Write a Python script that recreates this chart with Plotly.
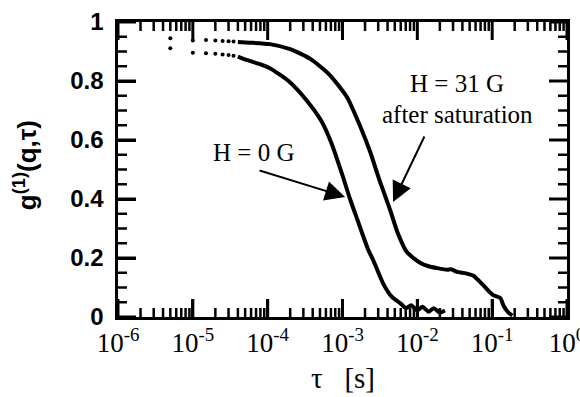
import plotly.graph_objects as go

# early, sparse correlator points (dots)
tau_dots = [5e-6, 1e-5, 1.5e-5, 2e-5, 2.5e-5, 3e-5, 3.5e-5]
g_h0_dots = [0.911, 0.896, 0.894, 0.892, 0.890, 0.888, 0.886]
g_h31_dots = [0.945, 0.937, 0.939, 0.937, 0.936, 0.935, 0.934]

# H = 0 G, dense part
tau_h0 = [4.0e-5, 5.75e-5, 7.9e-5, 1.07e-4, 1.9e-4, 3.3e-4, 5.2e-4, 7.1e-4, 1.0e-3,
          1.26e-3, 1.58e-3, 2.19e-3, 2.57e-3, 3.47e-3, 4.57e-3, 5.89e-3,
          7.1e-3, 8.3e-3, 1.0e-2, 1.17e-2, 1.41e-2, 1.66e-2, 2.0e-2, 2.34e-2]
g_h0 = [0.883, 0.868, 0.857, 0.843, 0.80, 0.735, 0.665, 0.59, 0.48,
        0.40, 0.33, 0.23, 0.193, 0.115, 0.068, 0.047,
        0.03, 0.04, 0.022, 0.035, 0.018, 0.03, 0.015, 0.022]

# H = 31 G after saturation, dense part
tau_h31 = [4.0e-5, 5.75e-5, 1.07e-4, 2.0e-4, 3.72e-4, 6.76e-4, 1.15e-3, 1.74e-3,
           2.34e-3, 3.16e-3, 4.37e-3, 5.37e-3, 7.24e-3, 1.1e-2, 1.41e-2, 1.82e-2,
           2.51e-2, 2.82e-2, 3.39e-2, 4.47e-2, 5.62e-2, 7.59e-2, 0.102, 0.129,
           0.141, 0.162, 0.186]
g_h31 = [0.932, 0.930, 0.925, 0.908, 0.875, 0.82, 0.745, 0.644,
         0.56, 0.46, 0.36, 0.29, 0.22, 0.183, 0.172, 0.166,
         0.16, 0.162, 0.153, 0.148, 0.14, 0.108, 0.075, 0.064,
         0.04, 0.017, 0.005]

x_tickvals = [1e-6, 1e-5, 1e-4, 1e-3, 1e-2, 1e-1, 1e0]
x_ticktext = ["10<sup>-6</sup>", "10<sup>-5</sup>", "10<sup>-4</sup>", "10<sup>-3</sup>",
              "10<sup>-2</sup>", "10<sup>-1</sup>", "10<sup>0</sup>"]
y_tickvals = [0, 0.2, 0.4, 0.6, 0.8, 1]
y_ticktext = ["0", "0.2", "0.4", "0.6", "0.8", "1"]
x_minor_digits = [2, 3, 4, 5, 6, 7, 8, 9]
y_minor_step = 0.05

x_minor = [d * dec for dec in x_tickvals[:-1] for d in x_minor_digits]
y_minor = [round(i * y_minor_step, 2) for i in range(1, 20)
           if round(i * y_minor_step, 2) not in y_tickvals]

W, H = 580, 397
ML, MR, MT, MB = 118, 13, 22, 80
XMIN, XMAX, YMIN, YMAX = 1e-6, 1.0, 0.0, 1.0
px_per_dec = (W - ML - MR) / 6.0
px_per_y = (H - MT - MB) / (YMAX - YMIN)

fig = go.Figure()

# tick marks on all four sides, pointing inward (one small line trace per tick)
tick_segments = []
for vals, Lpx, w in [(x_tickvals, 18, 3), (x_minor, 9, 2.5)]:
    dy = Lpx / px_per_y
    for v in vals:
        tick_segments.append(([v, v], [YMIN, YMIN + dy], w))
        tick_segments.append(([v, v], [YMAX, YMAX - dy], w))
for vals, Lpx, w in [(y_tickvals, 18, 3), (y_minor, 9, 2.5)]:
    f = 10 ** (Lpx / px_per_dec)
    for v in vals:
        tick_segments.append(([XMIN, XMIN * f], [v, v], w))
        tick_segments.append(([XMAX, XMAX / f], [v, v], w))
for xs, ys, w in tick_segments:
    fig.add_trace(go.Scatter(x=xs, y=ys, mode="lines",
                             line=dict(color="#000000", width=w),
                             hoverinfo="skip", showlegend=False))

for td, gd in [(tau_dots, g_h0_dots), (tau_dots, g_h31_dots)]:
    fig.add_trace(go.Scatter(x=td, y=gd, mode="markers",
                             marker=dict(color="black", size=4), showlegend=False))
for t, g in [(tau_h0, g_h0), (tau_h31, g_h31)]:
    fig.add_trace(go.Scatter(x=t, y=g, mode="lines",
                             line=dict(color="black", width=4, shape="spline", smoothing=0.6),
                             showlegend=False))

serif = "Liberation Serif, Times New Roman, serif"
sans = "Liberation Sans, Arial, sans-serif"

fig.update_layout(
    width=W, height=H,
    margin=dict(l=ML, r=MR, t=MT, b=MB),
    paper_bgcolor="white", plot_bgcolor="white",
    xaxis=dict(type="log", range=[-6, 0], showgrid=False, zeroline=False,
               showline=True, linecolor="black", linewidth=3, mirror=True,
               ticks="inside", ticklen=18, tickwidth=3, tickcolor="black",
               tickvals=x_tickvals, ticktext=x_ticktext,
               ticklabeloverflow="allow",
               tickfont=dict(family=serif, size=27, color="black"),
               automargin=False),
    yaxis=dict(range=[YMIN, YMAX], showgrid=False, zeroline=False,
               showline=True, linecolor="black", linewidth=3, mirror=True,
               ticks="inside", ticklen=18, tickwidth=3, tickcolor="black",
               tickvals=y_tickvals,
               ticktext=["<b>" + t + "</b>\u00a0" for t in y_ticktext],
               tickfont=dict(family=sans, size=24, color="black"),
               automargin=False),
    annotations=[
        dict(text="<b>g<sup>(1)</sup>(q,τ)</b>", xref="paper", yref="paper",
             x=-0.207, y=0.515, xanchor="center", yanchor="middle", textangle=-90,
             showarrow=False, font=dict(family=sans, size=26, color="black")),
        dict(text="τ   [s]", xref="paper", yref="paper", x=0.5, y=-0.207,
             xanchor="center", yanchor="middle",
             showarrow=False, font=dict(family=serif, size=29, color="black")),
        dict(text="H = 0 G", x=-4.195, y=0.556, xref="x", yref="y", showarrow=False,
             xanchor="center", yanchor="middle",
             font=dict(family=serif, size=25, color="black")),
        dict(text="H = 31 G", x=-1.468, y=0.79, xref="x", yref="y", showarrow=False,
             xanchor="center", yanchor="middle",
             font=dict(family=serif, size=25, color="black")),
        dict(text="after saturation", x=-1.47, y=0.685, xref="x", yref="y", showarrow=False,
             xanchor="center", yanchor="middle",
             font=dict(family=serif, size=25, color="black")),
        dict(text="", x=-2.965, y=0.407, xref="x", yref="y", ax=-4.128, ay=0.498,
             axref="x", ayref="y", showarrow=True, arrowhead=2, arrowsize=2,
             arrowwidth=2, arrowcolor="black"),
        dict(text="", x=-2.324, y=0.39, xref="x", yref="y", ax=-1.896, ay=0.617,
             axref="x", ayref="y", showarrow=True, arrowhead=2, arrowsize=2,
             arrowwidth=2, arrowcolor="black"),
    ],
)

fig.write_html("out.html")
